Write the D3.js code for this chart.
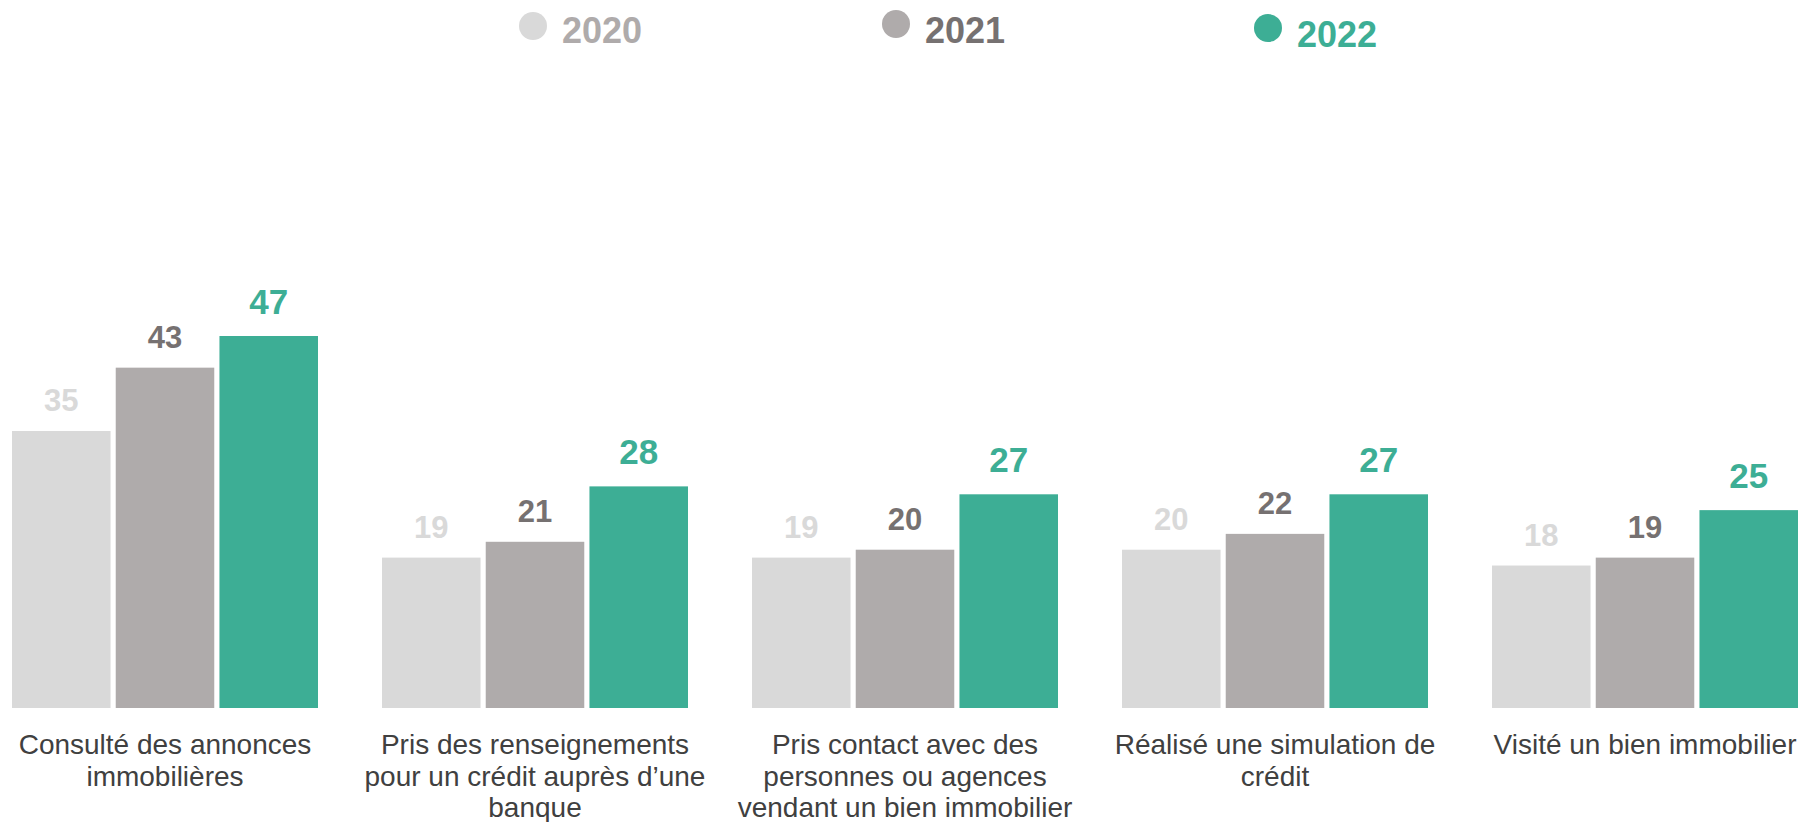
<!DOCTYPE html>
<html>
<head>
<meta charset="utf-8">
<script src="https://cdn.jsdelivr.net/npm/d3@7"></script>
<style>
  html, body { margin: 0; padding: 0; background: #fff; }
  svg { display: block; font-family: "Liberation Sans", Arial, sans-serif; }
</style>
</head>
<body>
<div id="chart"></div>
<script>
// categories (each label split into its lines)
const categories = [
    ["Consulté des annonces", "immobilières"],
    ["Pris des renseignements", "pour un crédit auprès d’une", "banque"],
    ["Pris contact avec des", "personnes ou agences", "vendant un bien immobilier"],
    ["Réalisé une simulation de", "crédit"],
    ["Visité un bien immobilier"]
];
const years = ["2020", "2021", "2022"];
const values2020 = [35, 19, 19, 20, 18];
const values2021 = [43, 21, 20, 22, 19];
const values2022 = [47, 28, 27, 27, 25];

const seriesValues = [values2020, values2021, values2022];

const barColors = ["#d9d9d9", "#afabab", "#3dae95"];
const labelColors = ["#d9d9d9", "#767171", "#3dae95"];
const legendTextColors = ["#afabab", "#767171", "#3dae95"];
const labelSizes = [31, 31, 35];
const labelGaps = [20, 20, 22];

// legend layout (circle centre, text start, baseline)
const legendPos = [
    { cx: 533, cy: 26, tx: 562, ty: 43 },
    { cx: 896, cy: 24, tx: 925, ty: 43 },
    { cx: 1268, cy: 28, tx: 1297, ty: 47 }
];

const width = 1800, height = 822;
const baseline = 708;

const svg = d3.select("#chart").append("svg")
    .attr("width", width)
    .attr("height", height);

const x0 = d3.scaleBand()
    .domain(d3.range(categories.length))
    .range([12, 1798])
    .paddingInner(0.173)
    .paddingOuter(0);

const x1 = d3.scaleBand()
    .domain(years)
    .range([0, x0.bandwidth()])
    .paddingInner(0.05);

const y = d3.scaleLinear()
    .domain([0, 47])
    .range([baseline, 336]);

const rows = [];
categories.forEach((c, i) => {
    years.forEach((yr, j) => {
        rows.push({ cat: i, year: yr, s: j, value: seriesValues[j][i] });
    });
});

const bars = svg.append("g");

bars.selectAll("rect")
    .data(rows)
    .enter().append("rect")
    .attr("x", d => x0(d.cat) + x1(d.year))
    .attr("y", d => y(d.value))
    .attr("width", x1.bandwidth())
    .attr("height", d => y(0) - y(d.value))
    .attr("fill", d => barColors[d.s]);

bars.selectAll("text")
    .data(rows)
    .enter().append("text")
    .attr("x", d => x0(d.cat) + x1(d.year) + x1.bandwidth() / 2)
    .attr("y", d => y(d.value) - labelGaps[d.s])
    .attr("text-anchor", "middle")
    .attr("font-weight", "bold")
    .attr("font-size", d => labelSizes[d.s] + "px")
    .attr("fill", d => labelColors[d.s])
    .text(d => d.value);

// category labels
const catLabels = svg.append("g")
    .selectAll("text")
    .data(categories)
    .enter().append("text")
    .attr("text-anchor", "middle")
    .attr("font-size", "28px")
    .attr("fill", "#404040")
    .attr("transform", (d, i) => `translate(${x0(i) + x0.bandwidth() / 2}, 754)`);

catLabels.selectAll("tspan")
    .data(d => d)
    .enter().append("tspan")
    .attr("x", 0)
    .attr("y", (d, i) => i * 31.7)
    .text(d => d);

// legend
const legend = svg.append("g")
    .selectAll("g")
    .data(years)
    .enter().append("g");

legend.append("circle")
    .attr("cx", (d, i) => legendPos[i].cx)
    .attr("cy", (d, i) => legendPos[i].cy)
    .attr("r", 14)
    .attr("fill", (d, i) => barColors[i]);

legend.append("text")
    .attr("x", (d, i) => legendPos[i].tx)
    .attr("y", (d, i) => legendPos[i].ty)
    .attr("font-size", "36px")
    .attr("font-weight", "bold")
    .attr("fill", (d, i) => legendTextColors[i])
    .text(d => d);
</script>
</body>
</html>
